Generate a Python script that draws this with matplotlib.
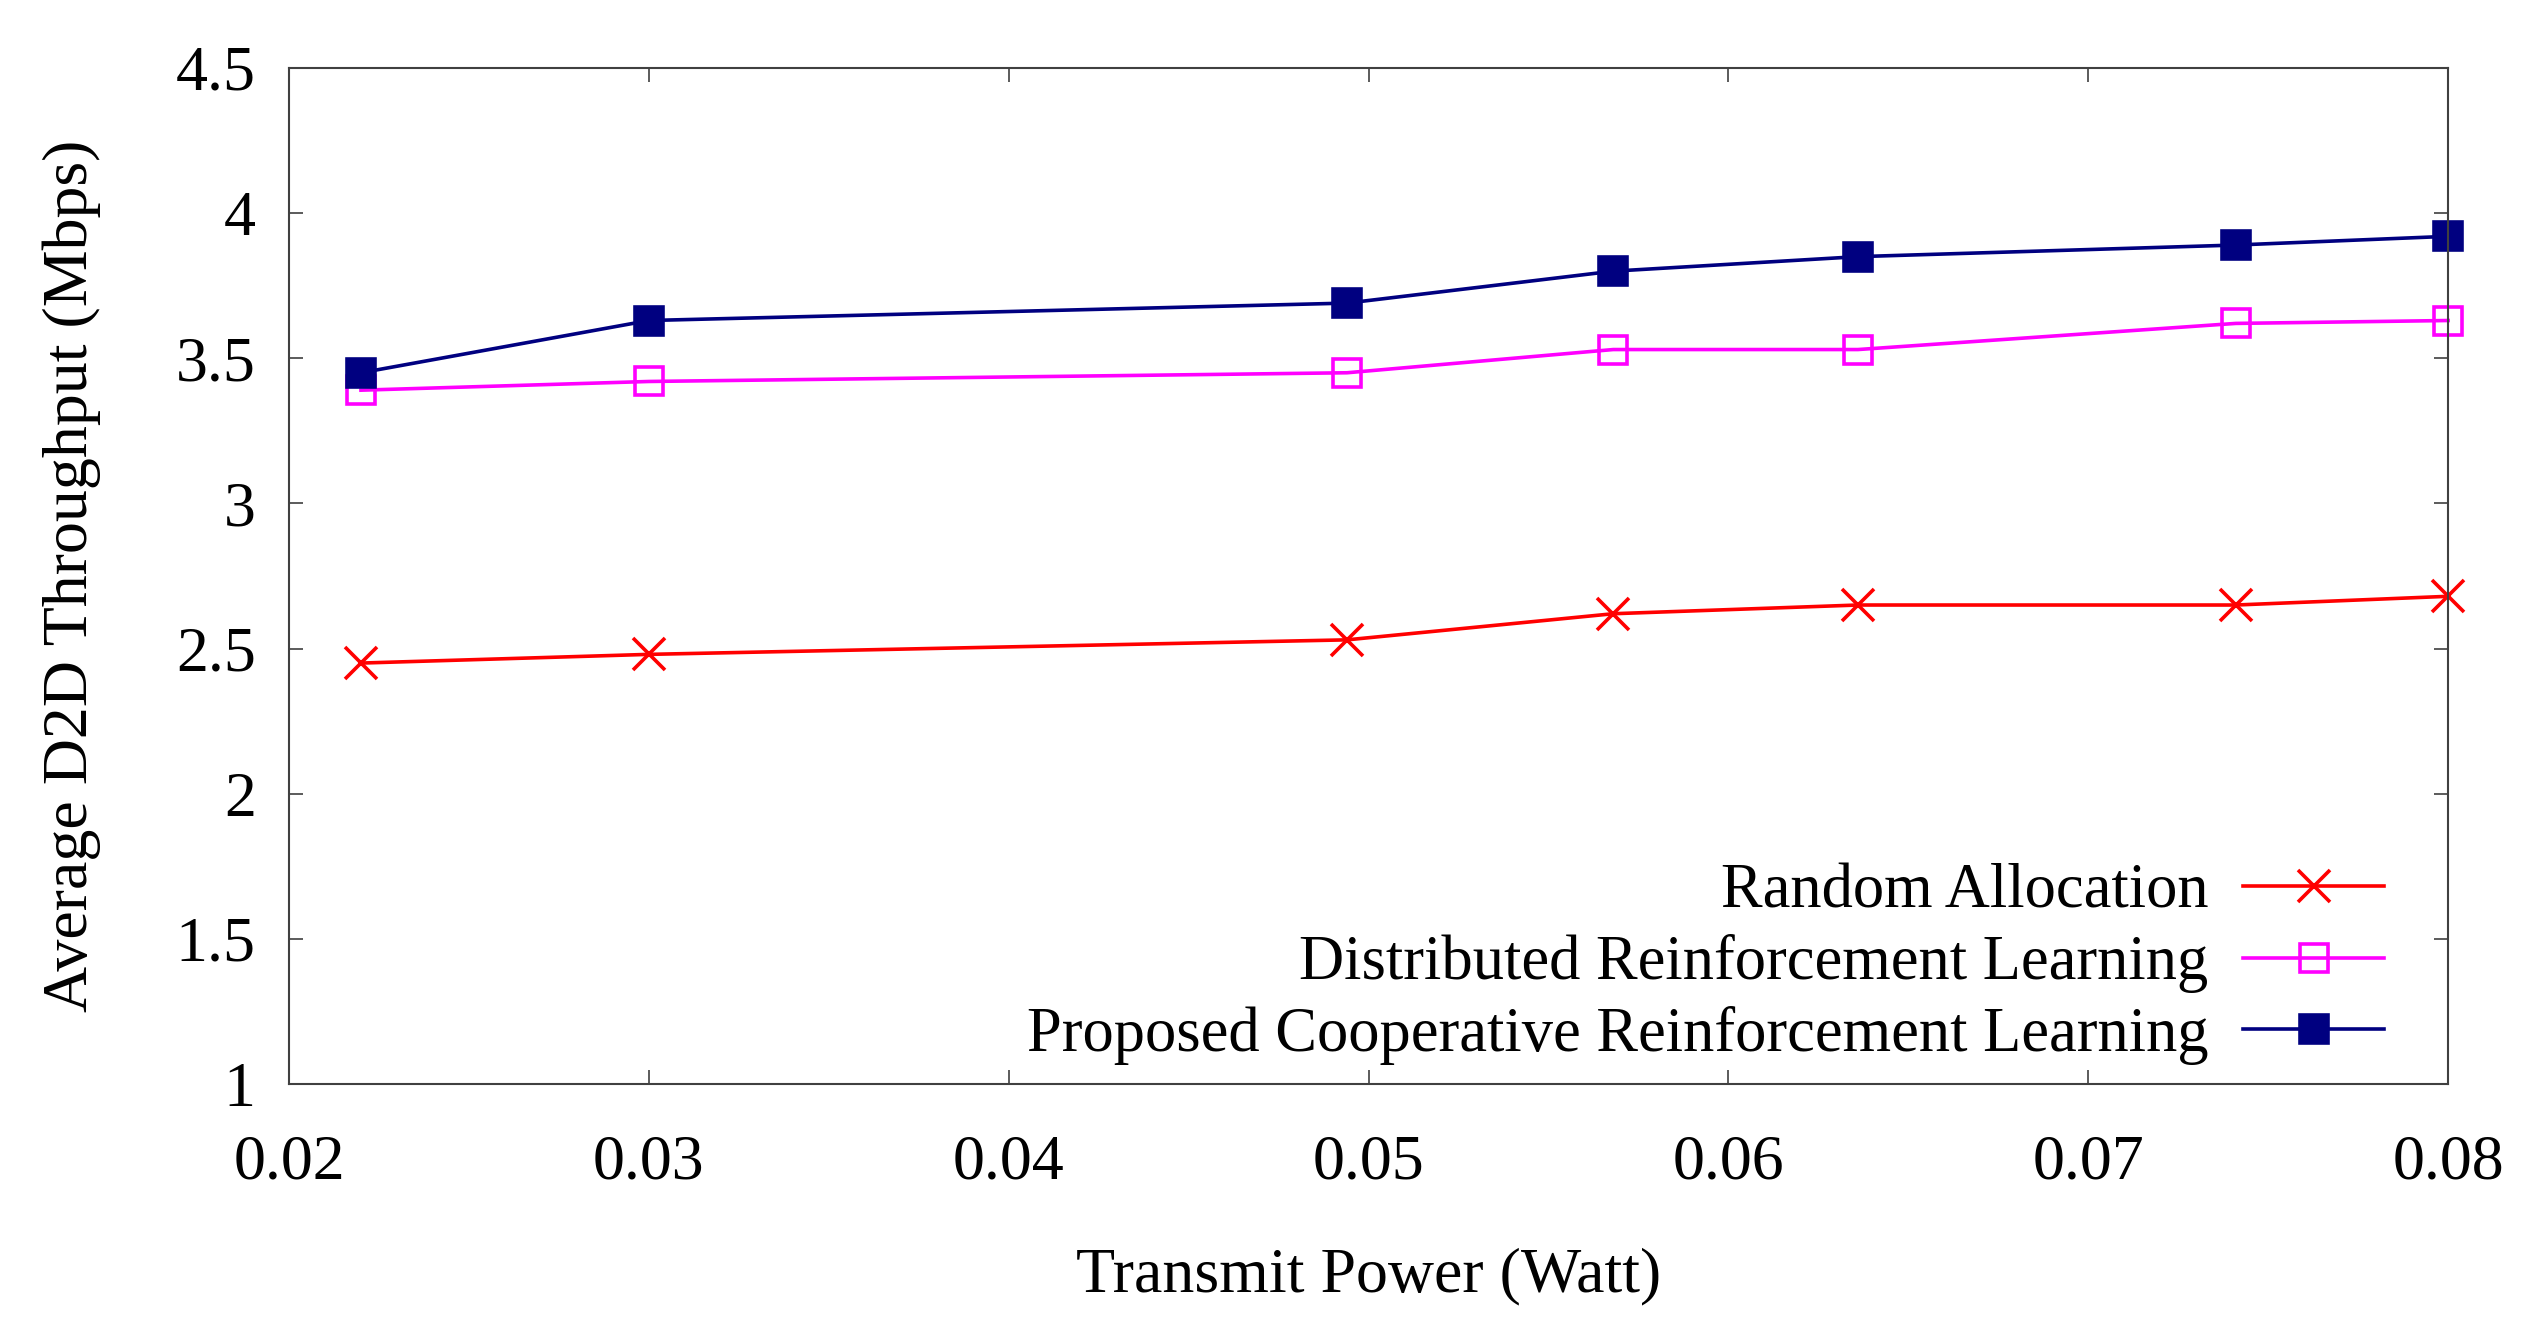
import matplotlib
matplotlib.use('Agg')
import matplotlib.pyplot as plt

# Dados
power = [0.022, 0.030, 0.0494, 0.0568, 0.0636, 0.0741, 0.080]
random_alloc = [2.45, 2.48, 2.53, 2.62, 2.65, 2.65, 2.68]
distributed_rl = [3.39, 3.42, 3.45, 3.53, 3.53, 3.62, 3.63]
cooperative_rl = [3.45, 3.63, 3.69, 3.80, 3.85, 3.89, 3.92]

labels = ['Random Allocation',
          'Distributed Reinforcement Learning',
          'Proposed Cooperative Reinforcement Learning']

x_ticks = [0.02, 0.03, 0.04, 0.05, 0.06, 0.07, 0.08]
y_ticks = [1, 1.5, 2, 2.5, 3, 3.5, 4, 4.5]

plt.rcParams['font.family'] = ['Liberation Serif', 'DejaVu Serif']
fs = 46

fig = plt.figure(figsize=(25.44, 13.27), dpi=100)
ax = fig.add_axes([0.1136, 0.1831, 0.9623 - 0.1136, 0.9488 - 0.1831])

lw = 2.6
ax.plot(power, random_alloc, color='#ff0000', lw=lw, marker='x',
        markersize=23, markeredgewidth=lw, label=labels[0], clip_on=False)
ax.plot(power, distributed_rl, color='#ff00ff', lw=lw, marker='s',
        markersize=20, markerfacecolor='none', markeredgewidth=lw,
        label=labels[1], clip_on=False)
ax.plot(power, cooperative_rl, color='#000080', lw=lw, marker='s',
        markersize=20, markerfacecolor='#000080', markeredgewidth=lw,
        label=labels[2], clip_on=False)

ax.set_xlim(0.02, 0.08)
ax.set_ylim(1, 4.5)
ax.set_xticks(x_ticks)
ax.set_xticklabels([f'{t:.2f}' for t in x_ticks])
ax.set_yticks(y_ticks)
ax.set_yticklabels([f'{t:g}' for t in y_ticks])

ax.tick_params(direction='in', length=10, width=1.2, top=True, right=True,
               labelsize=fs, color='#404040')
ax.tick_params(axis='x', pad=36)
ax.tick_params(axis='y', pad=24)
for s in ax.spines.values():
    s.set_color('#404040')
    s.set_linewidth(1.5)

ax.set_xlabel('Transmit Power (Watt)', fontsize=fs, labelpad=40)
ax.set_ylabel('Average D2D Throughput (Mbps)', fontsize=fs, labelpad=54)

ax.legend(loc='lower right', bbox_to_anchor=(0.985, -0.012), frameon=False,
          fontsize=45, markerfirst=False, handlelength=2.26, handletextpad=0.56,
          labelspacing=0.2, borderaxespad=0.1)

fig.savefig('out.png', dpi=100)
